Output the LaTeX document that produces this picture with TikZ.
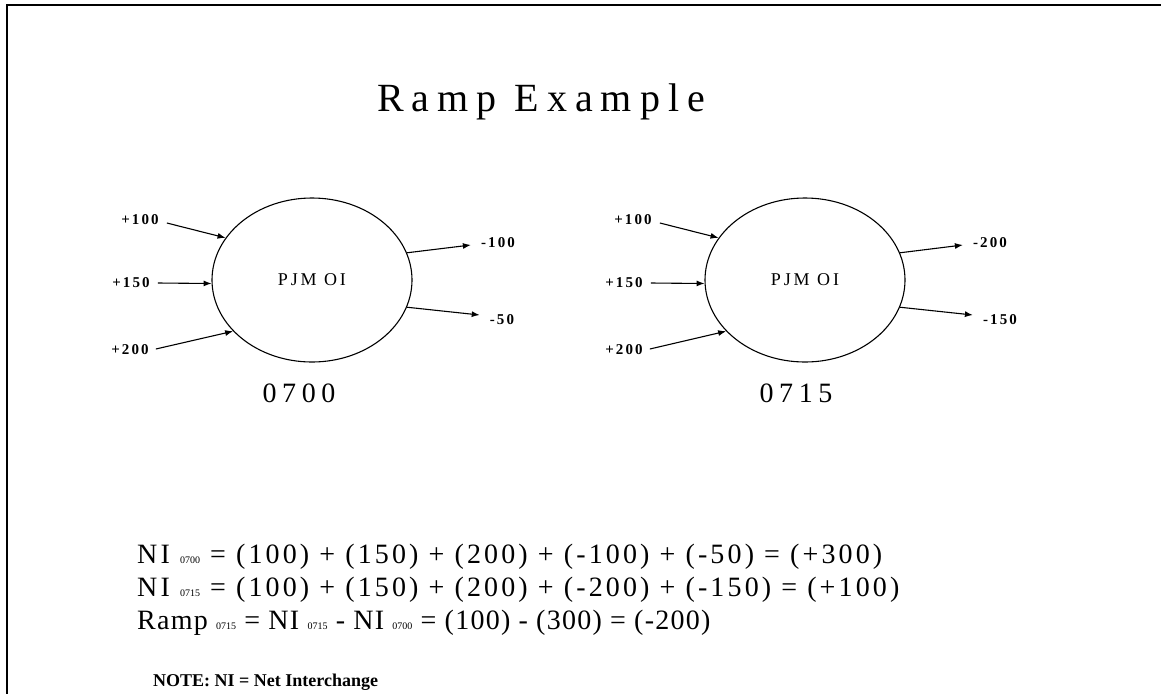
\documentclass[tikz,border=0pt]{standalone}
\usepackage{fontspec}
\setmainfont{Liberation Serif}
\newfontfamily\spfont{Liberation Serif}
\usetikzlibrary{shapes.geometric,arrows.meta}
\newcommand\mysub[1]{{\fontsize{10}{10}\selectfont\addfontfeature{LetterSpace=0}#1}}
\begin{document}
\begin{tikzpicture}[x=1pt,y=-1pt,
  pool/.style={ellipse,draw,line width=1.1pt,minimum width=200pt,minimum height=164pt,inner sep=0pt,
    font=\spfont\fontsize{18}{18}\selectfont\addfontfeature{LetterSpace=16}},
  flow/.style={-{Latex[length=8pt,width=6pt]},line width=1.1pt},
  lab/.style={inner sep=0pt,font=\spfont\fontsize{15}{15}\selectfont\bfseries\addfontfeature{LetterSpace=14}},
  hour/.style={inner sep=0pt,anchor=base,font=\spfont\fontsize{28}{28}\selectfont\addfontfeature{LetterSpace=20}},
  eq/.style={inner sep=0pt,anchor=base west,font=\spfont\fontsize{28}{28}\selectfont\addfontfeature{LetterSpace=11.2}},
  eqtight/.style={eq,font=\spfont\fontsize{28}{28}\selectfont\addfontfeature{LetterSpace=4.5}},
  ttl/.style={inner sep=0pt,anchor=base,font=\spfont\fontsize{40}{40}\selectfont\addfontfeature{LetterSpace=20}},
  note/.style={inner sep=0pt,anchor=base west,font=\fontsize{18}{18}\selectfont\bfseries},
]
\useasboundingbox (0,0) rectangle (1161,694);
\draw[line width=2pt] (1161,5) -- (7,5) -- (7,694);

\node[ttl] (title) at (541,111) {Ramp Example};

% ---- 0700 ----
\node[pool] (e1) at (312,280) {PJM OI};
\node[lab] (a1) at (140,220) {+100};
\node[lab] (a2) at (131,283) {+150};
\node[lab] (a3) at (130,350) {+200};
\node[lab] (o1) at (498,243) {-100};
\node[lab] (o2) at (502,320) {-50};
\draw[flow] ([xshift=8pt,yshift=-3pt]a1.east) -- (e1.154);
\draw[flow] ([xshift=8pt]a2.east) -- (e1.182);
\draw[flow] ([xshift=7pt,yshift=1pt]a3.east) -- (e1.213.5);
\draw[flow] (e1.16) -- ([xshift=-10pt,yshift=-2pt]o1.west);
\draw[flow] (e1.-16) -- ([xshift=-10pt,yshift=5pt]o2.west);
\node[hour] (h1) at (299,402) {0700};

% ---- 0715 ----
\node[pool] (e2) at (805,280) {PJM OI};
\node[lab] (b1) at (633,220) {+100};
\node[lab] (b2) at (624,283) {+150};
\node[lab] (b3) at (624,350) {+200};
\node[lab] (p1) at (990,243) {-200};
\node[lab] (p2) at (1000,320) {-150};
\draw[flow] ([xshift=8pt,yshift=-3pt]b1.east) -- (e2.154);
\draw[flow] ([xshift=8pt]b2.east) -- (e2.182);
\draw[flow] ([xshift=7pt,yshift=1pt]b3.east) -- (e2.213.5);
\draw[flow] (e2.16) -- ([xshift=-10pt,yshift=-2pt]p1.west);
\draw[flow] (e2.-16) -- ([xshift=-10pt,yshift=5pt]p2.west);
\node[hour] (h2) at (796,402) {0715};

% ---- equations ----
\node[eq] (q1) at (137,563) {NI \mysub{0700} = (100) + (150) + (200) + (-100) + (-50) = (+300)};
\node[eq] (q2) at (137,596) {NI \mysub{0715} = (100) + (150) + (200) + (-200) + (-150) = (+100)};
\node[eqtight] (q3) at (137,629) {Ramp \mysub{0715} = NI \mysub{0715} - NI \mysub{0700} = (100) - (300) = (-200)};
\node[note] (nt) at (153,686) {NOTE: NI = Net Interchange};
\end{tikzpicture}
\end{document}
